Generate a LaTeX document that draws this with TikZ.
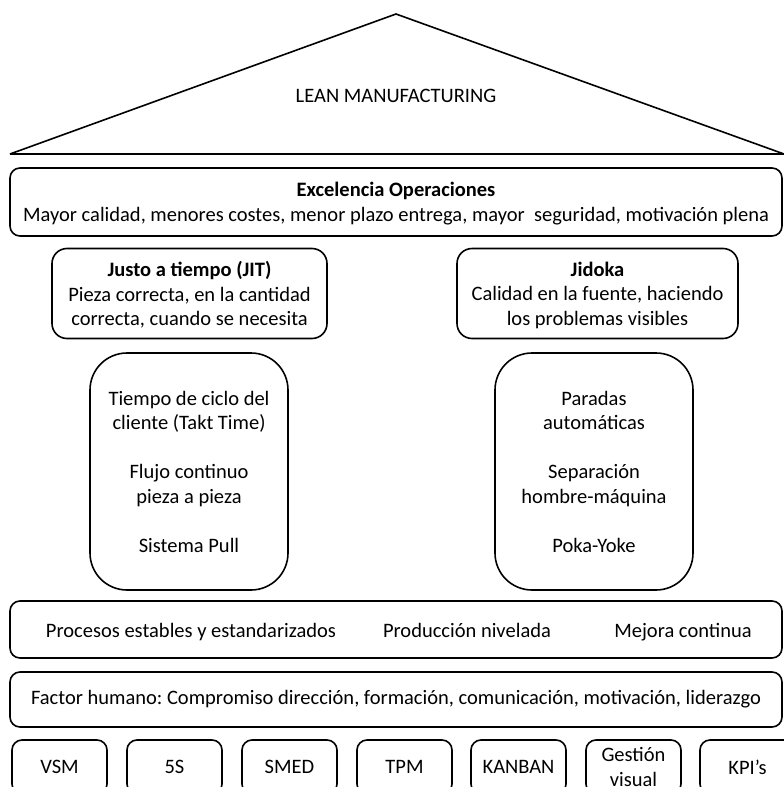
\documentclass[tikz,border=0pt]{standalone}
\usepackage{fontspec}
\setmainfont{Carlito}
\frenchspacing
\begin{document}
\begin{tikzpicture}[x=1pt,y=-1pt,
  txt/.style={font=\fontsize{20.5}{24.5}\selectfont, align=center, inner sep=0pt},
  box/.style={draw, line width=1.6pt, rounded corners=#1, txt},
  box/.default=10pt]
\useasboundingbox (0,0) rectangle (784,787);
\clip (0,0) rectangle (784,787);

% roof
\coordinate (roofL) at (10,154);
\coordinate (roofT) at (396,14);
\coordinate (roofR) at (784,154);
\draw[line width=1.6pt, line join=miter] (roofL) -- (roofT) -- (roofR);
\draw[line width=2.4pt] (roofL) -- (roofR);
\node[txt] (lean) at (396,96) {LEAN MANUFACTURING};

% goal
\node[box, minimum width=772pt, minimum height=68pt] (exc) at (396,202) {};
\node[txt, font=\fontsize{20.5}{25}\selectfont] (exct) at (396,204)
  {\textbf{Excelencia Operaciones}\\Mayor calidad, menores costes, menor plazo entrega, mayor\ \ seguridad, motivación plena};

% pillar headers
\node[box=15pt, minimum width=275pt, minimum height=90pt] (jit) at (189.5,293.5) {};
\node[txt] (jitt) at (189.5,295)
  {\textbf{Justo a tiempo (JIT)}\\Pieza correcta, en la cantidad\\correcta, cuando se necesita};
\node[box=15pt, minimum width=281pt, minimum height=90pt] (jid) at (597.5,293.5) {};
\node[txt] (jidt) at (597.5,295)
  {\textbf{Jidoka}\\Calidad en la fuente, haciendo\\los problemas visibles};

% pillars
\node[box=37pt, minimum width=198pt, minimum height=237pt] (pilL) at (189,471.5)
  {Tiempo de ciclo del\\cliente (Takt Time)\\[24.5pt]Flujo continuo\\pieza a pieza\\[24.5pt]Sistema Pull};
\node[box=37pt, minimum width=198pt, minimum height=237pt] (pilR) at (594,471.5)
  {Paradas\\automáticas\\[24.5pt]Separación\\hombre-máquina\\[24.5pt]Poka-Yoke};

% foundations
\node[box, minimum width=772pt, minimum height=57pt] (base) at (396,629.5) {};
\node[txt, anchor=base] (proc) at (191,637) {Procesos estables y estandarizados};
\node[txt, anchor=base] (prod) at (467,637) {Producción nivelada};
\node[txt, anchor=base] (mej) at (683,637) {Mejora continua};

\node[box, minimum width=772pt, minimum height=55pt] (hum) at (396,699.5)
  {Factor humano: Compromiso dirección, formación, comunicación, motivación, liderazgo};

% tools
\foreach \nm/\x/\t in {vsm/59.5/VSM, s5/174.5/5S, smed/289.5/SMED, tpm/404.5/TPM,
                       kanban/518.5/KANBAN, gv/633.5/{Gestión\\visual}, kpi/747.5/KPI’s}
  \node[box, minimum width=95pt, minimum height=54pt] (\nm) at (\x,767) {\t};
\end{tikzpicture}
\end{document}
